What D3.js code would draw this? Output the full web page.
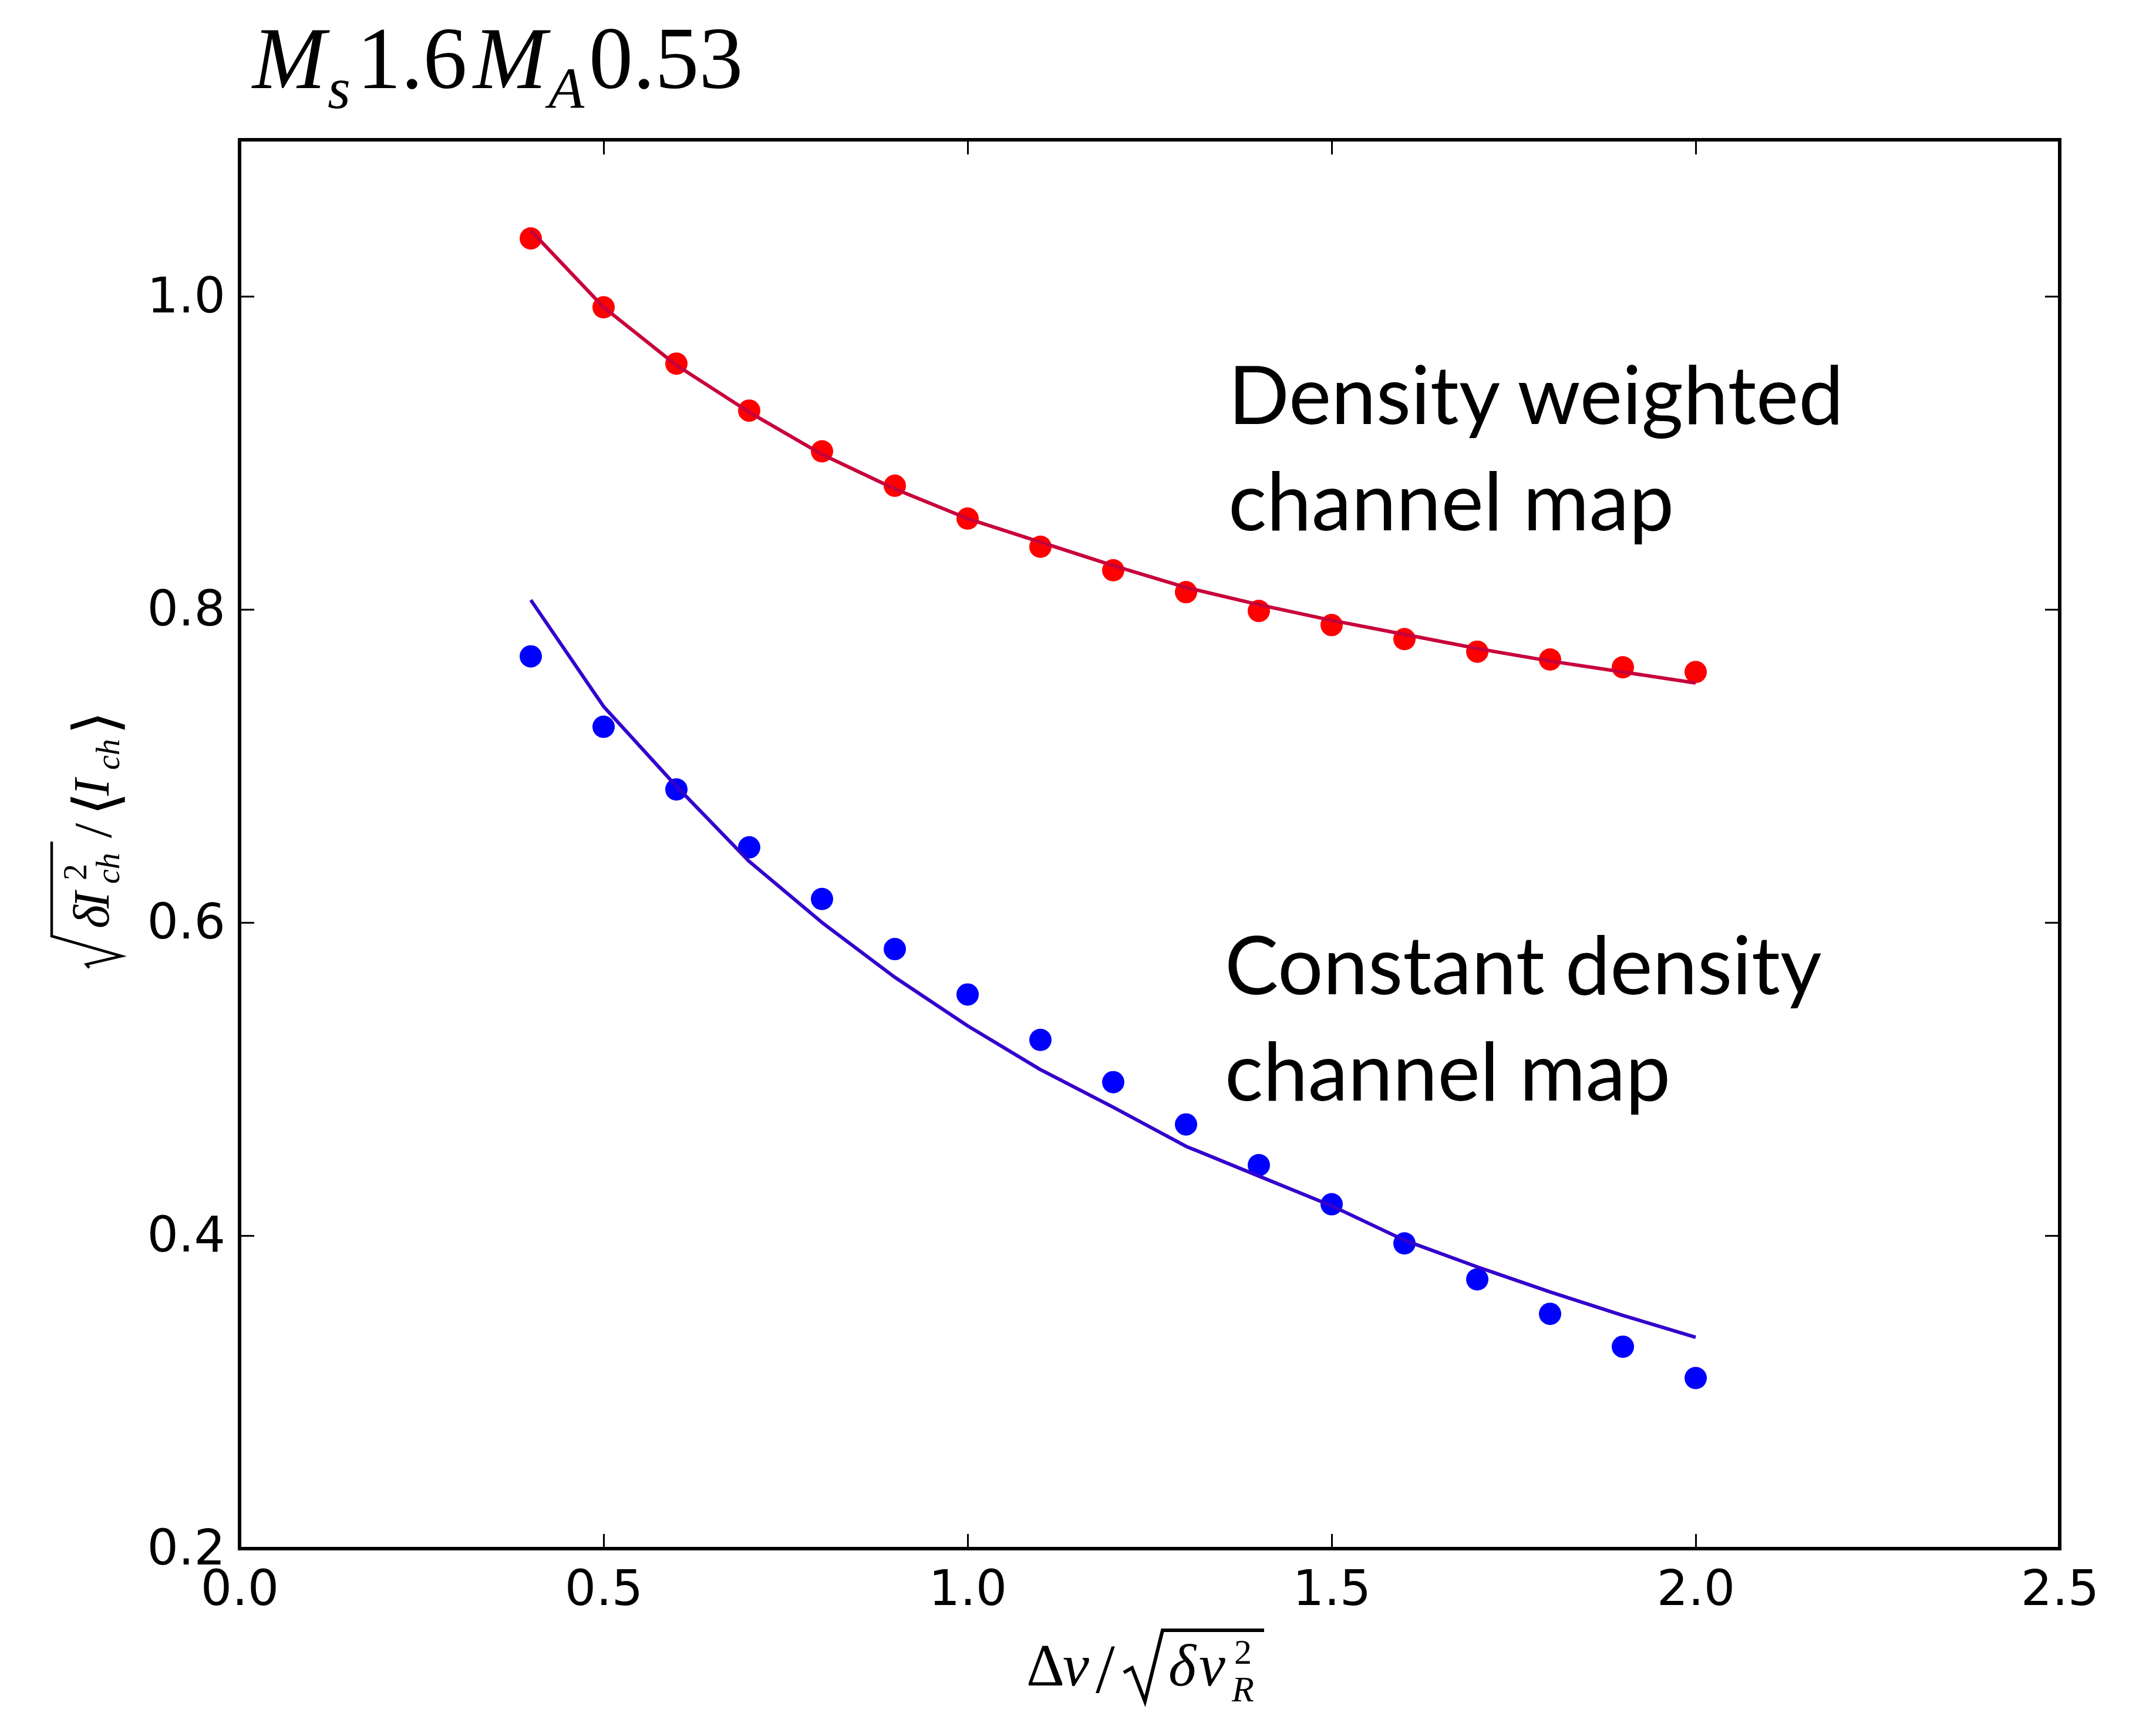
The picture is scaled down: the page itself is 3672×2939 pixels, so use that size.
<!DOCTYPE html>
<html><head><meta charset="utf-8">
<script src="https://cdn.jsdelivr.net/npm/d3@7/dist/d3.min.js"></script>
<style>html,body{margin:0;padding:0;background:#fff;} svg{display:block;}</style>
</head><body>
<script>
// ---------------- data ----------------
const xValues = [0.4, 0.5, 0.6, 0.7, 0.8, 0.9, 1.0, 1.1, 1.2, 1.3, 1.4, 1.5, 1.6, 1.7, 1.8, 1.9, 2.0];
const densityWeightedPoints = [1.037, 0.993, 0.957, 0.927, 0.901, 0.879, 0.858, 0.840, 0.825, 0.811, 0.799, 0.790, 0.781, 0.773, 0.768, 0.763, 0.760];
const densityWeightedFit    = [1.042, 0.993, 0.956, 0.926, 0.899, 0.877, 0.858, 0.843, 0.828, 0.814, 0.803, 0.793, 0.784, 0.775, 0.767, 0.760, 0.753];
const constantDensityPoints = [0.770, 0.725, 0.685, 0.648, 0.615, 0.583, 0.554, 0.525, 0.498, 0.471, 0.445, 0.420, 0.395, 0.372, 0.350, 0.329, 0.309];
const constantDensityFit    = [0.806, 0.738, 0.687, 0.639, 0.600, 0.565, 0.534, 0.506, 0.482, 0.457, 0.438, 0.419, 0.397, 0.380, 0.364, 0.349, 0.335];
const xTickValues = [0.0, 0.5, 1.0, 1.5, 2.0, 2.5];
const xTickLabels = ["0.0", "0.5", "1.0", "1.5", "2.0", "2.5"];
const yTickValues = [0.2, 0.4, 0.6, 0.8, 1.0];
const yTickLabels = ["0.2", "0.4", "0.6", "0.8", "1.0"];
const xDomain = [0, 2.5];
const yDomain = [0.2, 1.1];
const annotationDensity = ["Density weighted", "channel map"];
const annotationConstant = ["Constant density", "channel map"];

// ---------------- layout ----------------
const W = 3672, H = 2939;
const plot = {left: 408, right: 3508, top: 238, bottom: 2637};
const svg = d3.select("body").append("svg").attr("width", W).attr("height", H)
  .style("background", "#fff");

const x = d3.scaleLinear().domain(xDomain).range([plot.left, plot.right]);
const y = d3.scaleLinear().domain(yDomain).range([plot.bottom, plot.top]);

const tickFont = "'DejaVu Sans', sans-serif";
const tickSize = 84;
const mathFont = "'Liberation Serif', 'Times New Roman', serif";

// axes (inward ticks on all four sides)
function styleAxis(g) {
  g.select(".domain").remove();
  g.selectAll(".tick line").attr("stroke", "#000").attr("stroke-width", 3);
  g.selectAll(".tick text").attr("fill", "#000").style("font-family", tickFont).style("font-size", tickSize + "px");
}
svg.append("g").attr("transform", `translate(0,${plot.bottom})`)
  .call(d3.axisBottom(x).tickValues(xTickValues).tickFormat((d, i) => xTickLabels[i]).tickSizeInner(-25).tickSizeOuter(0).tickPadding(36))
  .call(styleAxis);
svg.append("g").attr("transform", `translate(0,${plot.top})`)
  .call(d3.axisTop(x).tickValues(xTickValues).tickFormat("").tickSizeInner(-25).tickSizeOuter(0))
  .call(styleAxis);
svg.append("g").attr("transform", `translate(${plot.left},0)`)
  .call(d3.axisLeft(y).tickValues(yTickValues).tickFormat((d, i) => yTickLabels[i]).tickSizeInner(-25).tickSizeOuter(0).tickPadding(24))
  .call(styleAxis);
svg.append("g").attr("transform", `translate(${plot.right},0)`)
  .call(d3.axisRight(y).tickValues(yTickValues).tickFormat("").tickSizeInner(-25).tickSizeOuter(0))
  .call(styleAxis);

// frame
svg.append("rect").attr("x", plot.left).attr("y", plot.top)
  .attr("width", plot.right - plot.left).attr("height", plot.bottom - plot.top)
  .attr("fill", "none").attr("stroke", "#000").attr("stroke-width", 6);

// ---------------- marks ----------------
const series = [
  {pts: densityWeightedPoints, fit: densityWeightedFit, dot: "#ff0000", line: "#c8003a"},
  {pts: constantDensityPoints, fit: constantDensityFit, dot: "#0000ff", line: "#3300cc"}
];
const line = d3.line().x(d => x(d[0])).y(d => y(d[1]));
series.forEach(s => {
  svg.append("g").selectAll("circle").data(xValues.map((v, i) => [v, s.pts[i]])).join("circle")
    .attr("cx", d => x(d[0])).attr("cy", d => y(d[1])).attr("r", 19).attr("fill", s.dot);
});
series.forEach(s => {
  svg.append("path").datum(xValues.map((v, i) => [v, s.fit[i]]))
    .attr("d", line).attr("fill", "none").attr("stroke", s.line).attr("stroke-width", 6)
    .attr("stroke-linejoin", "round");
});

// ---------------- annotations ----------------
const annFont = "Lato, 'Open Sans', sans-serif";
const annTexts = [];
function annot(lines, x0, baselines) {
  lines.forEach((t, i) => {
    annTexts.push(svg.append("text").attr("x", x0).attr("y", baselines[i]).text(t)
      .style("font-family", annFont).style("font-size", "138px").attr("fill", "#000"));
  });
}
annot(annotationDensity, 2092, [722, 903]);
annot(annotationConstant, 2086, [1693, 1874]);
const len = annTexts[0].node().getComputedTextLength();
const fs = 138 * 1048 / len;
annTexts.forEach(t => t.style("font-size", fs + "px"));

// ---------------- title ----------------
function piece(parent, str, px, py, size, italic, family) {
  return parent.append("text").attr("x", px).attr("y", py).text(str)
    .style("font-family", family || mathFont).style("font-size", size + "px")
    .style("font-style", italic ? "italic" : "normal").attr("fill", "#000");
}
const title = svg.append("g");
const tBase = 150, tSub = 184;
piece(title, "M", 430, tBase, 150, true);
piece(title, "s", 558, tSub, 100, true);
piece(title, "1.6", 608, tBase, 150, false);
piece(title, "M", 806, tBase, 150, true);
piece(title, "A", 934, tSub, 100, true);
piece(title, "0.53", 1003, tBase, 150, false);

// ---------------- x label ----------------
const xl = svg.append("g");
const xb = 2870;
piece(xl, "Δ", 1748, xb, 101, false);
piece(xl, "v", 1810, xb, 101, true);
piece(xl, "/", 1866, xb + 12, 118, false);
xl.append("path")
  .attr("d", "M1914,2848 L1928,2840 L1950,2897 L1980,2776 L2153,2776")
  .attr("fill", "none").attr("stroke", "#000").attr("stroke-width", 6).attr("stroke-linejoin", "miter");
piece(xl, "δ", 1990, xb, 101, true);
piece(xl, "v", 2042, xb, 101, true);
piece(xl, "2", 2102, 2833, 60, false);
piece(xl, "R", 2098, 2897, 62, true);

// ---------------- y label (rotated) ----------------
const yl = svg.append("g").attr("transform", "translate(185,1651) rotate(-90)");
yl.append("path")
  .attr("d", "M3,-33 L9,-38 L23,22 L57,-97 L218,-97")
  .attr("fill", "none").attr("stroke", "#000").attr("stroke-width", 4.5).attr("stroke-linejoin", "miter");
piece(yl, "δ", 70, 0, 86, true);
piece(yl, "I", 104, 0, 86, true);
piece(yl, "2", 152, -38, 56, false);
piece(yl, "ch", 146, 18, 56, true);
piece(yl, "/", 224, 4, 92, false);
piece(yl, "⟨", 262, 14, 104, false, "'DejaVu Sans', sans-serif");
piece(yl, "I", 296, 0, 86, true);
piece(yl, "ch", 340, 18, 56, true);
piece(yl, "⟩", 400, 14, 104, false, "'DejaVu Sans', sans-serif");
</script>
</body></html>
